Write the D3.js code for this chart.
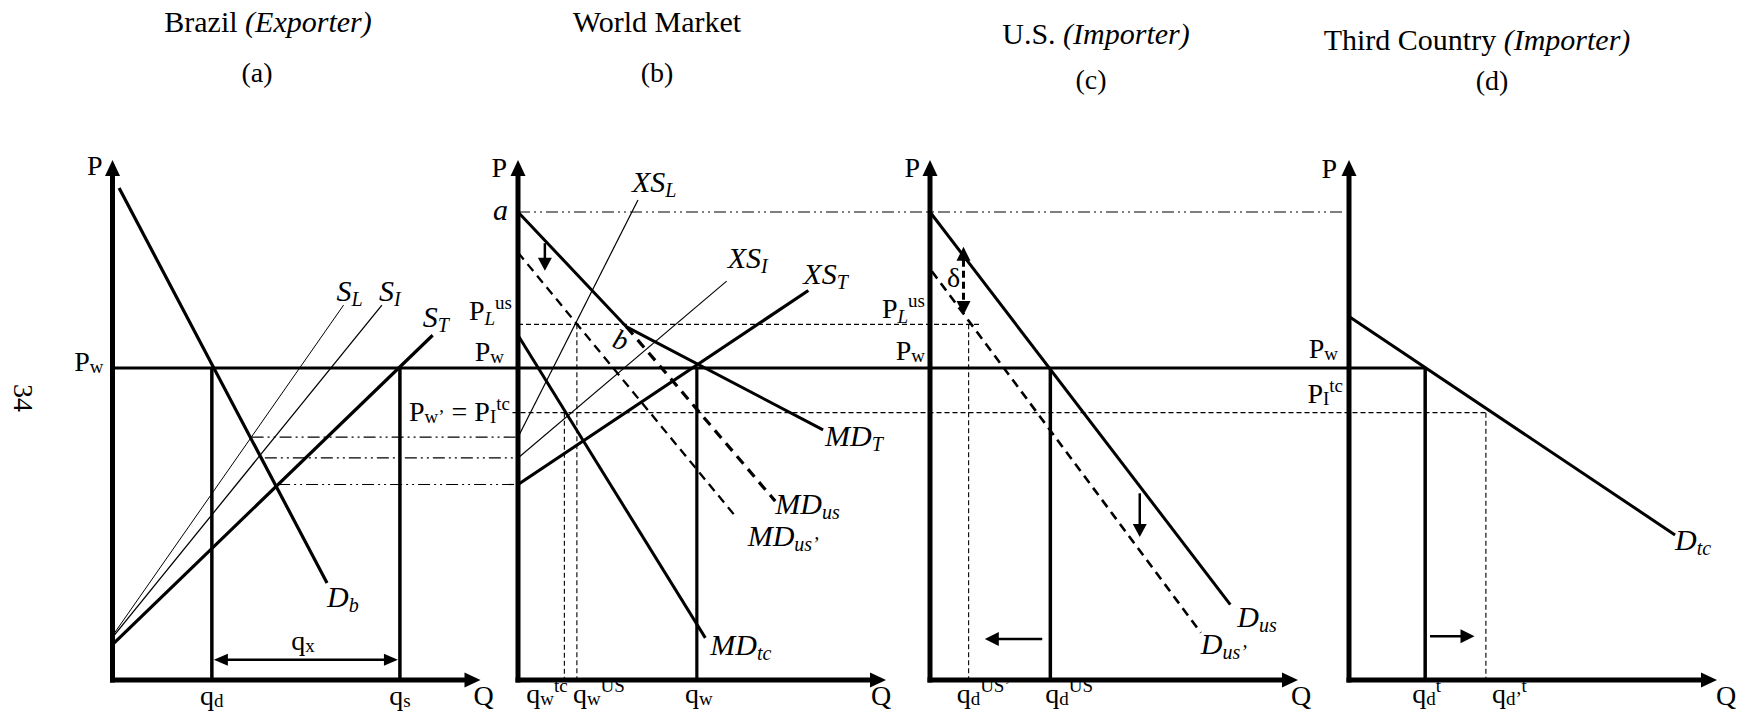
<!DOCTYPE html>
<html><head><meta charset="utf-8">
<script src="https://cdn.jsdelivr.net/npm/d3@7"></script>
<style>
html,body{margin:0;padding:0;background:#fff;}
svg{display:block;}
text{font-family:"Liberation Serif","Times New Roman",serif;fill:#000;}
</style></head><body>
<svg id="chart" width="1745" height="724"></svg>
<script>
// ---------------- data (P and Q in arbitrary 0-100 units per panel) ----------------
const titles = ["Brazil ", "World Market", "U.S. ", "Third Country "];
const titleRoles = ["(Exporter)", "", "(Importer)", "(Importer)"];
const panelLetters = ["(a)", "(b)", "(c)", "(d)"];

const Pw = 60;        // world price
const PLus = 68.4;    // P_L^us
const PItc = 51.4;    // P_w' = P_I^tc
const Pa = 90;        // point a

// (a) Brazil
const Db = [[1.8, 94.6], [58.3, 18.65]];
const SL = [[0, 8.5], [62.8, 72.1]];
const SI = [[0, 8.2], [73.2, 72.1]];
const ST = [[0.4, 7.1], [87, 66.3]];
const qdA = 27.0, qsA = 78.1, qxP = 3.9;
const autarkyP = [46.7, 42.7, 37.6];
const autarkyQ = [37.8, 41.4, 45.0];

// (b) World market
const XSL = [[0, 46.7], [32.6, 92.3]];
const XSI = [[0, 42.7], [56.7, 76.7]];
const XST = [[0, 37.6], [78.9, 74.9]];
const MDT = [[0, 90], [29.5, 67.9], [82.9, 48.1]];
const MDus = [[29.5, 67.9], [69.9, 34.4]];
const MDus2 = [[0, 82.2], [58.6, 31.9]];
const MDtc = [[0, 66.3], [50.9, 8.1]];
const qwTC = 12.6, qwUS = 16.0, qw = 48.6;
const arrowB = [[7.3, 84], [7.3, 78.7]];

// (c) U.S.
const Dus = [[0, 90], [81.6, 14.5]];
const Dus2 = [[0.5, 78.6], [73.6, 9.1]];
const qdUS = 32.7, qdUS2 = 10.5, plusEndQ = 13.6;
const deltaArrow = [[9.1, 83.3], [9.1, 70.2]];
const arrowCdown = [[57, 35.9], [57, 27.5]];
const arrowCleft = [[30.5, 7.9], [14.9, 7.9]];

// (d) Third country
const Dtc = [[0, 69.9], [88.6, 27.9]];
const qdT = 20.7, qdT2 = 37.2;
const arrowDright = [[22, 8.4], [34.1, 8.4]];

// ---------------- layout ----------------
const panelX0 = [112.5, 518, 930, 1349];
const axisLen = 368;
const svg = d3.select("#chart");
const g = svg.append("g");
const y = d3.scaleLinear().domain([0, 100]).range([680, 160]);
const xs = panelX0.map(x0 => d3.scaleLinear().domain([0, 100]).range([x0, x0 + axisLen]));
const lineGen = i => d3.line().x(d => xs[i](d[0])).y(d => y(d[1]));

function seg(x1, y1, x2, y2, w, dash) {
  return g.append("line").attr("x1", x1).attr("y1", y1).attr("x2", x2).attr("y2", y2)
    .attr("stroke", "#000").attr("stroke-width", w).attr("stroke-dasharray", dash || null);
}
function curve(i, pts, w, dash) {
  return g.append("path").attr("d", lineGen(i)(pts)).attr("fill", "none")
    .attr("stroke", "#000").attr("stroke-width", w).attr("stroke-dasharray", dash || null)
    .attr("stroke-linejoin", "round");
}
function head(xt, yt, ang, len, half) {
  const bx = xt - len * Math.cos(ang), by = yt - len * Math.sin(ang);
  const px = -Math.sin(ang) * half, py = Math.cos(ang) * half;
  g.append("path").attr("d", `M${xt},${yt}L${bx + px},${by + py}L${bx - px},${by - py}Z`).attr("fill", "#000");
}
function arrow(x1, y1, x2, y2, w, dash, both, len, half) {
  len = len || 13; half = half || 6;
  const ang = Math.atan2(y2 - y1, x2 - x1);
  const sx = both ? x1 + (len - 1) * Math.cos(ang) : x1, sy = both ? y1 + (len - 1) * Math.sin(ang) : y1;
  seg(sx, sy, x2 - (len - 1) * Math.cos(ang), y2 - (len - 1) * Math.sin(ang), w, dash);
  head(x2, y2, ang, len, half);
  if (both) head(x1, y1, ang + Math.PI, len, half);
}
function arrowData(i, a, w, dash, both, len, half) {
  arrow(xs[i](a[0][0]), y(a[0][1]), xs[i](a[1][0]), y(a[1][1]), w, dash, both, len, half);
}
function label(x, yy, parts, anchor, size) {
  size = size || 28;
  const t = g.append("text").attr("x", x).attr("y", yy).attr("text-anchor", anchor || "start")
    .style("font-size", size + "px");
  let cur = 0;
  parts.forEach(p => {
    const [str, kind, ital] = p;
    const off = kind === "sub" ? 5 : kind === "sup" ? -11 : kind === "sw" ? 2 : 0;
    const ts = t.append("tspan").text(str).attr("dy", off - cur);
    cur = off;
    if (kind) ts.style("font-size", Math.round(size * 0.67) + "px");
    if (ital) ts.style("font-style", "italic");
  });
  return t;
}
const CL = 30; // curve-label size
const endPt = (i, pts) => [xs[i](pts[pts.length - 1][0]), y(pts[pts.length - 1][1])];

// ---------------- titles ----------------
const titleX = [268, 657, 1096, 1477], titleY = [32, 32, 44, 50];
const letterX = [257, 657, 1091, 1492], letterY = [82, 82, 89, 90];
titles.forEach((t, i) => {
  const tx = g.append("text").attr("x", titleX[i]).attr("y", titleY[i]).attr("text-anchor", "middle").style("font-size", "30px");
  tx.append("tspan").text(t);
  if (titleRoles[i]) tx.append("tspan").text(titleRoles[i]).style("font-style", "italic");
  g.append("text").attr("x", letterX[i]).attr("y", letterY[i]).attr("text-anchor", "middle").style("font-size", "28px").text(panelLetters[i]);
});
g.append("text").attr("transform", "translate(14,398) rotate(90)").attr("text-anchor", "middle").style("font-size", "28px").text("34");

// ---------------- reference lines across panels ----------------
const dd = "12,4,2,4,2,4";
autarkyP.forEach((p, k) => seg(xs[0](autarkyQ[k]), y(p), xs[1](0), y(p), 1.2, dd));
seg(xs[1](0), y(Pa), xs[3](0) - 6, y(Pa), 1.2, dd);
seg(xs[1](0), y(PLus), xs[2](plusEndQ), y(PLus), 1.2, "5,3");
seg(xs[1](-1.5), y(PItc), xs[3](qdT2), y(PItc), 1.2, "5,3");
seg(xs[0](0), y(Pw), xs[3](qdT), y(Pw), 3.2);

// ---------------- axes ----------------
xs.forEach((x, i) => {
  seg(x(0), y(0) + 2.5, x(0), y(100) + 14, 5);
  head(x(0), y(100), -Math.PI / 2, 16, 7.5);
  seg(x(0) - 2.5, y(0), x(100) - 14, y(0), 5);
  head(x(100), y(0), 0, 16, 7.5);
});

// ---------------- panel (a) ----------------
curve(0, SL, 1);
curve(0, SI, 1.3);
curve(0, ST, 3.2);
curve(0, Db, 3.2);
seg(xs[0](qdA), y(Pw), xs[0](qdA), y(0), 3.5);
seg(xs[0](qsA), y(Pw), xs[0](qsA), y(0), 3.5);
arrow(xs[0](qdA) + 2, y(qxP), xs[0](qsA) - 2, y(qxP), 2.5, null, true, 14, 6);
label(xs[0](0) - 10, y(100) + 15, [["P"]], "end");
label(xs[0](0) - 9, y(Pw) + 3, [["P"], ["w", "sw"]], "end");
let e = endPt(0, SL); label(e[0] - 7, e[1] - 4, [["S", null, true], ["L", "sub", true]], "start", CL);
e = endPt(0, SI); label(e[0] - 3, e[1] - 4, [["S", null, true], ["I", "sub", true]], "start", CL);
e = endPt(0, ST); label(e[0] - 10, e[1] - 8, [["S", null, true], ["T", "sub", true]], "start", CL);
e = endPt(0, Db); label(e[0], e[1] + 24, [["D", null, true], ["b", "sub", true]], "start", CL);
label(xs[0]((qdA + qsA) / 2) - 3, y(qxP) - 10, [["q"], ["x", "sw"]], "middle");
label(xs[0](qdA), 705, [["q"], ["d", "sw"]], "middle");
label(xs[0](qsA), 705, [["q"], ["s", "sw"]], "middle");
label(xs[0](100) - 7, 705, [["Q"]]);

// ---------------- panel (b) ----------------
curve(1, XSL, 1.2);
curve(1, XSI, 1.1);
curve(1, XST, 3.2);
curve(1, MDT, 3);
curve(1, MDus, 3.2, "10,7");
curve(1, MDus2, 2.3, "9,6");
curve(1, MDtc, 3);
seg(xs[1](qwTC), y(PItc), xs[1](qwTC), y(0), 1.1, "5,3");
seg(xs[1](qwUS), y(PLus), xs[1](qwUS), y(0), 1.1, "5,3");
seg(xs[1](qw), y(Pw), xs[1](qw), y(0), 3.2);
arrowData(1, arrowB, 2.5, null, false, 13, 7);
label(xs[1](0) - 11, y(100) + 17, [["P"]], "end");
label(xs[1](0) - 10, y(Pa) + 8, [["a", null, true]], "end", CL);
label(xs[1](0) - 6, y(PLus) - 4, [["P"], ["L", "sub", true], ["us", "sup"]], "end");
label(xs[1](0) - 14, y(Pw) - 7, [["P"], ["w", "sw"]], "end");
label(xs[1](0) - 8, y(PItc) + 8, [["P"], ["w’", "sw"], [" = P"], ["I", "sw"], ["tc", "sup"]], "end");
e = endPt(1, XSL); label(e[0] - 6, e[1] - 8, [["XS", null, true], ["L", "sub", true]], "start", CL);
e = endPt(1, XSI); label(e[0] + 1, e[1] - 13, [["XS", null, true], ["I", "sub", true]], "start", CL);
e = endPt(1, XST); label(e[0] - 5, e[1] - 7, [["XS", null, true], ["T", "sub", true]], "start", CL);
e = endPt(1, MDT); label(e[0] + 2, e[1] + 16, [["MD", null, true], ["T", "sub", true]], "start", CL);
e = endPt(1, MDus); label(e[0], e[1] + 13, [["MD", null, true], ["us", "sub", true]], "start", CL);
e = endPt(1, MDus2); label(e[0] + 14, e[1] + 32, [["MD", null, true], ["us’", "sub", true]], "start", CL);
e = endPt(1, MDtc); label(e[0] + 5, e[1] + 17, [["MD", null, true], ["tc", "sub", true]], "start", CL);
g.append("text").attr("transform", `translate(${xs[1](MDT[1][0]) - 9},${y(MDT[1][1]) + 22}) rotate(20)`)
  .attr("text-anchor", "middle").style("font-size", "28px").style("font-style", "italic").text("b");
label(xs[1](qwTC) - 38, 703, [["q"], ["w", "sw"], ["tc", "sup"]]);
label(xs[1](qwUS) - 4, 703, [["q"], ["w", "sw"], ["US", "sup"]]);
label(xs[1](qw) + 2, 703, [["q"], ["w", "sw"]], "middle");
label(xs[1](100) - 15, 705, [["Q"]]);

// ---------------- panel (c) ----------------
curve(2, Dus, 3);
curve(2, Dus2, 2.6, "9,6");
seg(xs[2](qdUS2), y(PLus), xs[2](qdUS2), y(0), 1.1, "5,3");
seg(xs[2](qdUS), y(Pw), xs[2](qdUS), y(0), 3.5);
arrowData(2, deltaArrow, 3, "7,4", true, 14, 7);
arrowData(2, arrowCdown, 2.5, null, false, 13, 7);
arrowData(2, arrowCleft, 2.5, null, false, 14, 7);
label(xs[2](0) - 10, y(100) + 17, [["P"]], "end");
label(xs[2](0) - 5, y(PLus) - 6, [["P"], ["L", "sub", true], ["us", "sup"]], "end");
label(xs[2](0) - 5, y(Pw) - 8, [["P"], ["w", "sw"]], "end");
g.append("text").attr("x", xs[2](deltaArrow[0][0]) - 10).attr("y", 287).attr("text-anchor", "middle").style("font-size", "28px").text("δ");
e = endPt(2, Dus); label(e[0] + 7, e[1] + 22, [["D", null, true], ["us", "sub", true]], "start", CL);
e = endPt(2, Dus2); label(e[0], e[1] + 21, [["D", null, true], ["us’", "sub", true]], "start", CL);
label(xs[2](qdUS2) - 12, 703, [["q"], ["d", "sw"], ["US’", "sup"]]);
label(xs[2](qdUS) - 5, 703, [["q"], ["d", "sw"], ["US", "sup"]]);
label(xs[2](100) - 7, 705, [["Q"]]);

// ---------------- panel (d) ----------------
curve(3, Dtc, 3);
seg(xs[3](qdT), y(Pw), xs[3](qdT), y(0), 3.5);
seg(xs[3](qdT2), y(PItc), xs[3](qdT2), y(0), 1.1, "5,3");
arrowData(3, arrowDright, 2.5, null, false, 14, 7);
label(xs[3](0) - 12, y(100) + 18, [["P"]], "end");
label(xs[3](0) - 11, y(Pw) - 10, [["P"], ["w", "sw"]], "end");
label(xs[3](0) - 6, y(PItc) - 10, [["P"], ["I", "sw"], ["tc", "sup"]], "end");
e = endPt(3, Dtc); label(e[0], e[1] + 15, [["D", null, true], ["tc", "sub", true]], "start", CL);
label(xs[3](qdT) - 13, 703, [["q"], ["d", "sw"], ["t", "sup"]]);
label(xs[3](qdT2) + 6, 703, [["q"], ["d’", "sw"], ["t", "sup"]]);
label(xs[3](100) - 1, 705, [["Q"]]);
</script>
</body></html>
